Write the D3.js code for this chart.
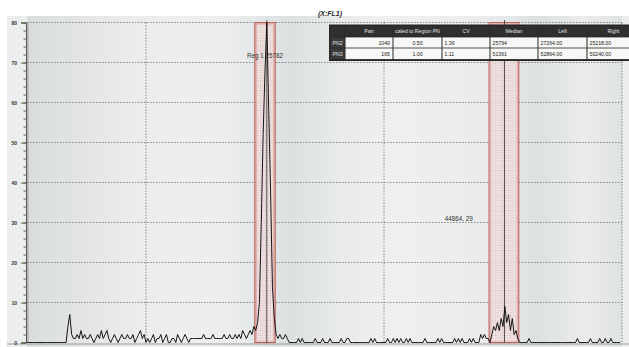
<!DOCTYPE html>
<html>
<head>
<meta charset="utf-8">
<script src="https://cdn.jsdelivr.net/npm/d3@7"></script>
<style>
  html, body { margin: 0; padding: 0; background: #fff; }
  svg { display: block; font-family: "Liberation Sans", Arial, sans-serif; }
</style>
</head>
<body>
<div id="chart"></div>
<script>
// FL1 histogram, one count per channel bin
const binWidth = 200;
const counts = [
  0,0,0,0,0,0,0,0,0,0,0,0,0,0,0,0,0,0,0,0,
  0,0,4,7,2,1,1,2,1,3,1,2,1,1,2,1,0,1,2,1,
  3,1,2,3,1,0,1,2,1,0,1,2,1,1,2,1,1,2,0,1,
  2,3,1,2,0,1,0,1,2,0,1,1,2,0,1,2,0,0,1,1,
  0,2,1,0,1,2,1,0,1,1,1,1,1,1,1,2,1,1,1,1,
  2,1,1,1,1,1,2,1,1,2,1,1,2,1,2,1,3,2,1,2,
  3,2,4,3,5,10,30,52,68,80,58,38,14,6,2,1,2,1,1,2,
  1,0,0,0,0,0,1,0,1,0,0,0,0,0,0,1,0,0,0,1,
  0,0,0,1,0,0,0,0,0,1,0,0,1,1,0,0,0,0,0,0,
  0,0,0,0,0,1,0,1,0,0,0,0,0,0,1,0,0,1,0,1,
  0,1,0,0,1,0,1,0,0,0,0,0,0,0,1,0,0,0,0,0,
  0,1,0,1,0,0,0,0,0,0,1,0,1,0,1,0,0,0,1,0,
  1,0,0,0,2,1,2,1,1,0,2,4,3,5,3,6,4,9,5,7,
  3,6,2,3,1,0,0,0,0,0,1,0,0,0,0,0,0,0,0,0,
  0,0,0,0,0,0,0,0,0,0,0,0,0,0,0,0,1,0,0,0,
  0,0,0,1,0,0,0,0,1,0,0,1,0,0,1,0,0,0,0,0
];
const yTicks = [0, 10, 20, 30, 40, 50, 60, 70, 80];
const xGrid = [0, 12800, 25600, 38400, 51200, 64000];

// gated regions
const regionNames = ["PN2", "PN3"];
const regionLeft = [24500, 49700];
const regionRight = [26700, 52900];
const regionMedian = [25794, 51361];

// statistics table
const tableHeader = ["", "Part", "caled to Region PN", "CV", "Median", "Left", "Right"];
const partCounts = ["1040", "165"];
const scaledRatios = ["0.50", "1.00"];
const cvValues = ["1.36", "1.11"];
const medianValues = ["25794", "51361"];
const leftValues = ["27264.00", "52864.00"];
const rightValues = ["25218.00", "50240.00"];

const W = 629, H = 347;
const m = { top: 22.5, right: 7, bottom: 4.5, left: 27 };

const svg = d3.select("#chart").append("svg").attr("width", W).attr("height", H);
const defs = svg.append("defs");

const x = d3.scaleLinear().domain([0, 64000]).range([m.left, W - m.right]);
const y = d3.scaleLinear().domain([0, 80]).range([H - m.bottom, m.top]);

// panel + brushed background
svg.append("rect").attr("x", 7).attr("y", 16).attr("width", W - 7).attr("height", H - 16).attr("fill", "#eceeed");

const grad = defs.append("linearGradient").attr("id", "bg").attr("x1", 0).attr("x2", 1).attr("y1", 0).attr("y2", 0);
[[0, "#dadddd"], [0.1, "#e4e6e6"], [0.2, "#eceeed"], [0.32, "#edefee"], [0.39, "#e4e7e7"],
 [0.44, "#dde0e0"], [0.53, "#e9ebeb"], [0.6, "#eef0ef"], [0.72, "#eceeed"], [0.8, "#e6e9e9"],
 [0.86, "#dee1e2"], [0.94, "#eaeceb"], [1, "#e0e3e3"]]
  .forEach(([o, c]) => grad.append("stop").attr("offset", o).attr("stop-color", c));

svg.append("rect")
  .attr("x", x(0)).attr("y", 16)
  .attr("width", x(64000) - x(0)).attr("height", H - 16)
  .attr("fill", "url(#bg)");

// grid
const grid = svg.append("g").attr("stroke", "#6d6f70").attr("stroke-width", 0.8).attr("stroke-dasharray", "1.5 1.5");
grid.selectAll(".hg").data(yTicks.filter(d => d > 0)).enter().append("line")
  .attr("x1", x(0)).attr("x2", x(64000))
  .attr("y1", d => y(d)).attr("y2", d => y(d));
grid.selectAll(".vg").data(xGrid.slice(1)).enter().append("line")
  .attr("x1", d => x(d)).attr("x2", d => x(d))
  .attr("y1", y(80)).attr("y2", y(0));

// regions
const pat = defs.append("pattern").attr("id", "dots").attr("patternUnits", "userSpaceOnUse")
  .attr("width", 2.5).attr("height", 2.5);
pat.append("rect").attr("width", 2.5).attr("height", 2.5).attr("fill", "#f3e1e0");
pat.append("rect").attr("width", 1).attr("height", 1).attr("fill", "#c9b4b3");

const reg = svg.append("g");
reg.selectAll(".band").data(regionNames).enter().append("rect")
  .attr("x", (d, i) => x(regionLeft[i]) + 1.2)
  .attr("y", y(80) + 1.2)
  .attr("width", (d, i) => x(regionRight[i]) - x(regionLeft[i]) - 2.4)
  .attr("height", y(0) - y(80) - 1.2)
  .attr("fill", "url(#dots)")
  .attr("fill-opacity", 0.85)
  .attr("stroke", "#e3b3ae")
  .attr("stroke-width", 2);
reg.selectAll(".edge").data(regionNames).enter().append("rect")
  .attr("x", (d, i) => x(regionLeft[i]))
  .attr("y", y(80))
  .attr("width", (d, i) => x(regionRight[i]) - x(regionLeft[i]))
  .attr("height", y(0) - y(80))
  .attr("fill", "none")
  .attr("stroke", "#b9615a")
  .attr("stroke-width", 1);
reg.selectAll("line").data(regionMedian).enter().append("line")
  .attr("x1", d => x(d)).attr("x2", d => x(d))
  .attr("y1", y(80) - 2.5).attr("y2", y(0))
  .attr("stroke", "#444").attr("stroke-width", 0.9);

// histogram trace
const line = d3.line()
  .x((d, i) => x(i * binWidth))
  .y(d => y(d));
svg.append("path")
  .datum(counts)
  .attr("d", line)
  .attr("fill", "none")
  .attr("stroke", "#151515")
  .attr("stroke-width", 1)
  .attr("stroke-linejoin", "miter");

// bottom axis line
svg.append("line").attr("x1", 7).attr("x2", W).attr("y1", y(0) + 1.5).attr("y2", y(0) + 1.5)
  .attr("stroke", "#9a9c9c").attr("stroke-width", 1);

// y axis
svg.append("line").attr("x1", x(0) + 1).attr("x2", x(0) + 1).attr("y1", y(80)).attr("y2", y(0))
  .attr("stroke", "#8a8c8c").attr("stroke-width", 0.8);
const yAxis = svg.append("g").attr("transform", `translate(${x(0) - 1},0)`)
  .call(d3.axisLeft(y).tickValues(yTicks).tickSize(5).tickPadding(4));
yAxis.select(".domain").attr("stroke", "#555");
yAxis.selectAll(".tick line").attr("stroke", "#555");
yAxis.selectAll("text").attr("font-size", 5).attr("font-weight", "bold").attr("fill", "#333");
const minor = svg.append("g").attr("transform", `translate(${x(0) - 1},0)`)
  .call(d3.axisLeft(y).tickValues(d3.range(0, 81, 2)).tickSize(2.5).tickFormat(""));
minor.select(".domain").remove();
minor.selectAll(".tick line").attr("stroke", "#666");

// title + annotations
svg.append("text").attr("x", 330).attr("y", 15.5).attr("text-anchor", "middle")
  .attr("font-size", 7).attr("font-weight", "bold").attr("font-style", "italic").attr("fill", "#222")
  .text("(X:FL1)");
svg.append("text").attr("x", x(25600)).attr("y", y(71.2)).attr("text-anchor", "middle")
  .attr("font-size", 6.3).attr("fill", "#333").text("Reg 1 25782");
svg.append("text").attr("x", x(46450)).attr("y", y(30.3)).attr("text-anchor", "middle")
  .attr("font-size", 6.3).attr("fill", "#333").text("44864, 29");

// statistics table
const colX = [330, 345, 393, 442, 490, 538, 587, 640];
const rowY = [26, 37, 48, 59.5];
const tbl = svg.append("g");
tbl.append("rect").attr("x", colX[0] - 1).attr("y", rowY[0] - 1.5)
  .attr("width", W - colX[0] + 2).attr("height", rowY[3] - rowY[0] + 3)
  .attr("fill", "#262626");
const rows = regionNames.map((n, i) => [n, partCounts[i], scaledRatios[i], cvValues[i],
  medianValues[i], leftValues[i], rightValues[i]]);
const align = ["start", "end", "middle", "start", "start", "start", "start"];
const cellX = (c) => align[c] === "end" ? colX[c + 1] - 3 : align[c] === "middle" ? (colX[c] + colX[c + 1]) / 2 : colX[c] + 2.5;

// header cells
tableHeader.forEach((h, c) => {
  tbl.append("rect").attr("x", colX[c] + 0.4).attr("y", rowY[0]).attr("width", colX[c + 1] - colX[c] - 0.8)
    .attr("height", rowY[1] - rowY[0] - 0.5).attr("fill", "#2f2f2f");
  tbl.append("text").attr("x", (colX[c] + colX[c + 1]) / 2).attr("y", rowY[0] + 7.2)
    .attr("text-anchor", "middle").attr("font-size", 5.2).attr("fill", "#e0e0e0").text(h);
});
rows.forEach((r, ri) => {
  r.forEach((v, c) => {
    tbl.append("rect").attr("x", colX[c] + 0.5).attr("y", rowY[ri + 1] + 0.4)
      .attr("width", colX[c + 1] - colX[c] - 1).attr("height", rowY[ri + 2] - rowY[ri + 1] - 0.8)
      .attr("fill", c === 0 ? "#3a3a3a" : "#f7f7f6");
    tbl.append("text").attr("x", c === 0 ? colX[0] + 2.5 : cellX(c)).attr("y", rowY[ri + 1] + 7.6)
      .attr("text-anchor", c === 0 ? "start" : align[c])
      .attr("font-size", 5.2).attr("fill", c === 0 ? "#e0e0e0" : "#222").text(v);
  });
});
</script>
</body>
</html>
